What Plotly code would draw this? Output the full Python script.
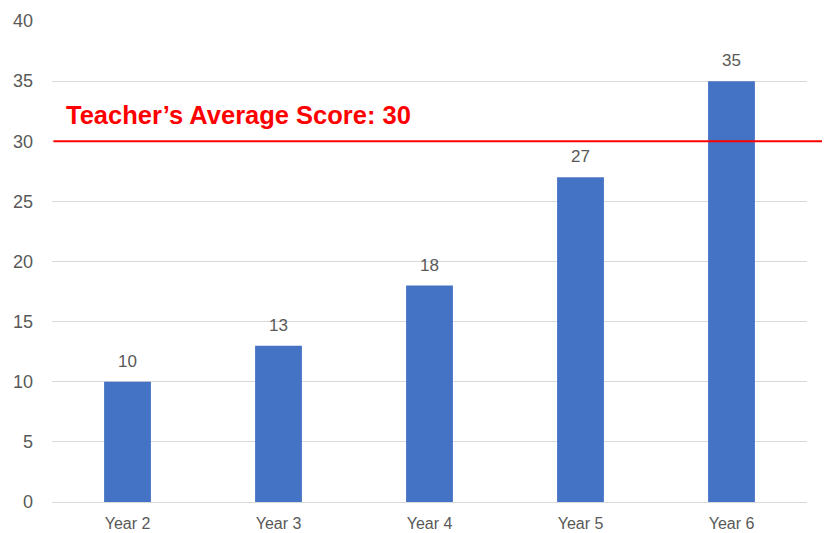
import plotly.graph_objects as go

categories = ["Year 2", "Year 3", "Year 4", "Year 5", "Year 6"]
scores = [10, 13, 18, 27, 35]
teacher_avg = 30
y_ticks = [0, 5, 10, 15, 20, 25, 30, 35, 40]

FONT = "Liberation Sans, Arial"

fig = go.Figure()
fig.add_trace(go.Bar(x=categories, y=scores, marker=dict(color="#4472C4", line=dict(width=0)),
                     hoverinfo="x+y"))

for c, v in zip(categories, scores):
    fig.add_annotation(x=c, y=v, text=str(v), showarrow=False, yanchor="bottom", yshift=9,
                       font=dict(size=17, color="#595959", family=FONT))

fig.add_shape(type="line", xref="paper", yref="y", x0=0.002, x1=1.025, y0=teacher_avg, y1=teacher_avg,
              line=dict(color="#FF0000", width=2))
fig.add_annotation(xref="paper", yref="y", x=0.016, y=teacher_avg, xanchor="left", yanchor="bottom",
                   yshift=10, showarrow=False, text=f"<b>Teacher’s Average Score: {teacher_avg}</b>",
                   font=dict(size=25.5, color="#FF0000", family=FONT))

fig.update_layout(
    width=822, height=525,
    margin=dict(l=44, r=23, t=13, b=31),
    paper_bgcolor="white", plot_bgcolor="white",
    bargap=0.69,
    showlegend=False,
    font=dict(family=FONT, color="#595959"),
    xaxis=dict(showgrid=False, showline=False, ticks="", tickfont=dict(size=16, color="#595959"),
               ticklabelstandoff=10, automargin=False),
    yaxis=dict(range=[0, 40], tickvals=y_ticks, showgrid=True, gridcolor="#D9D9D9", gridwidth=1,
               zeroline=True, zerolinecolor="#D9D9D9", zerolinewidth=1, showline=False,
               tickfont=dict(size=18, color="#595959"), ticklabelstandoff=18, automargin=False),
)

fig.write_html("out.html")
